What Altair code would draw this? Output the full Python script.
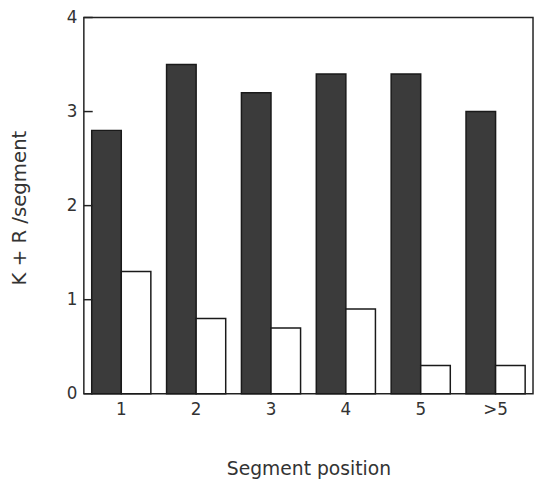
import altair as alt
import pandas as pd

categories = ["1", "2", "3", "4", "5", ">5"]
dark_values = [2.8, 3.5, 3.2, 3.4, 3.4, 3.0]
light_values = [1.3, 0.8, 0.7, 0.9, 0.3, 0.3]
y_ticks = [0, 1, 2, 3, 4]

rows = []
for c, d, l in zip(categories, dark_values, light_values):
    rows.append({"pos": c, "series": "a", "value": d})
    rows.append({"pos": c, "series": "b", "value": l})
df = pd.DataFrame(rows)
ticks_df = pd.DataFrame({"t": y_ticks})

FONT = "DejaVu Sans"
TXT = "#333333"

y_scale = alt.Scale(domain=[0, 4], nice=False)

bars = alt.Chart(df).mark_bar(stroke="#1a1a1a", strokeWidth=1.5).encode(
    x=alt.X("pos:N", sort=categories,
            scale=alt.Scale(paddingInner=0.21, paddingOuter=0.105),
            axis=alt.Axis(title="Segment position", labelAngle=0, ticks=False, domain=False,
                          labelPadding=8, labelFontSize=17, labelColor=TXT, labelFont=FONT,
                          titleFont=FONT, titleFontSize=19, titleFontWeight="normal",
                          titleColor=TXT, titleY=76, titleBaseline="middle")),
    xOffset=alt.XOffset("series:N", sort=["a", "b"], scale=alt.Scale(paddingInner=0, paddingOuter=0)),
    y=alt.Y("value:Q", scale=y_scale,
            axis=alt.Axis(title="K + R /segment", values=y_ticks, format="d", ticks=False,
                          domain=False, grid=False, labelPadding=7, labelFontSize=17,
                          labelColor=TXT, labelFont=FONT, titleFont=FONT, titleFontSize=20,
                          titleFontWeight="normal", titleColor=TXT, titleX=-65, titleY=193,
                          titleAngle=270, titleAlign="center", titleBaseline="middle")),
    color=alt.Color("series:N", scale=alt.Scale(domain=["a", "b"], range=["#3b3b3b", "#ffffff"]),
                    legend=None),
)

tick_marks = alt.Chart(ticks_df).mark_rule(color="#222222", strokeWidth=1.5).encode(
    y=alt.Y("t:Q", scale=y_scale),
    x=alt.value(0),
    x2=alt.value(9),
)

chart = alt.layer(bars, tick_marks).properties(
    width=456,
    height=382,
    autosize=alt.AutoSizeParams(type="none"),
    padding={"left": 77, "top": 6, "right": 1, "bottom": 90},
    background="white",
).configure_view(stroke="#222222", strokeWidth=1.5).configure_axis(grid=False)

chart.save("out.html", embed_options={"renderer": "svg", "actions": False})
